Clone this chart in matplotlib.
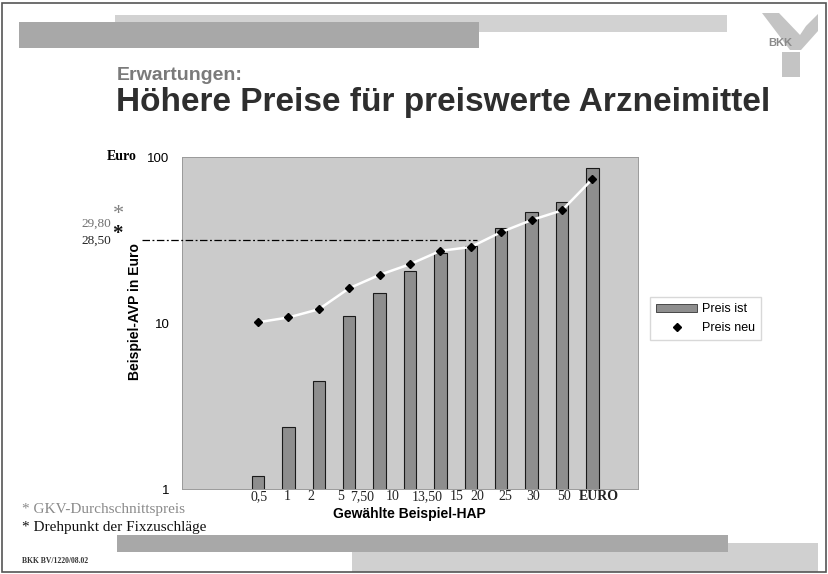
import matplotlib
matplotlib.use("Agg")
import matplotlib.pyplot as plt
from matplotlib.patches import Rectangle, Polygon
from matplotlib.lines import Line2D
from matplotlib.ticker import NullLocator

# data
hap_labels = ["0,5", "1", "2", "5", "7,50", "10", "13,50", "15", "20", "25", "30", "50"]
preis_ist = [1.19, 2.36, 4.49, 11.0, 15.2, 20.5, 26.3, 29.1, 37.3, 46.8, 53.6, 86.2]
preis_neu = [10.1, 10.8, 12.1, 16.2, 19.5, 22.6, 27.2, 28.7, 35.3, 41.7, 47.7, 73.7]
drehpunkt = 31.8  # level of the dash-dot line as drawn
y_ticks = [1, 10, 100]

# where the typed tick labels sit (category units), they drift left of the bars
label_pos = [0.05, 0.95, 1.73, 2.72, 3.42, 4.44, 5.56, 6.55, 7.21, 8.13, 9.05, 10.05, 11.2]

W, H = 829, 574
plt.rcParams["font.family"] = ["Liberation Sans", "DejaVu Sans"]
fig = plt.figure(figsize=(W / 100, H / 100), dpi=100)
fig.patch.set_facecolor("white")


def fx(x):
    return x / W


def fy(y):
    return 1 - y / H


def box(x0, y0, x1, y1, color, z=0):
    fig.add_artist(Rectangle((fx(x0), fy(y1)), fx(x1 - x0), (y1 - y0) / H,
                             transform=fig.transFigure, facecolor=color,
                             edgecolor="none", zorder=z))


# slide frame
fig.add_artist(Rectangle((fx(2), fy(572)), fx(824), 569 / H, transform=fig.transFigure,
                         facecolor="none", edgecolor="#555555", lw=1.2, zorder=5))

# header / footer bands
box(115, 15, 727, 32, "#d2d2d2")
box(19, 22, 479, 48, "#a8a8a8", 1)
box(352, 543, 818, 572, "#d0d0d0")
box(117, 535, 728, 552, "#a8a8a8", 1)

# BKK logo
logo = "#c4c4c4"
for pts in [[(762, 13), (779, 13), (801, 36), (801, 50), (790, 50)],
            [(818, 14), (818, 31), (801, 50), (790, 50), (806, 26)],
            [(782, 52), (800, 52), (800, 77), (782, 77)]]:
    fig.add_artist(Polygon([(fx(a), fy(b)) for a, b in pts], closed=True,
                           transform=fig.transFigure, facecolor=logo, edgecolor="none"))
fig.text(fx(780), fy(43), "BKK", fontsize=8, fontweight="bold", color="#8a8a8a",
         ha="center", va="center")

# titles
fig.text(fx(117), fy(76), "Erwartungen:", fontsize=14, fontweight="bold",
         color="#7a7a7a", va="center")
fig.text(fx(116), fy(102), "Höhere Preise für preiswerte Arzneimittel", fontsize=24,
         fontweight="bold", color="#2e2e2e", va="center")

# chart
ax = fig.add_axes([fx(182), fy(489), fx(456), 332 / H])
ax.set_facecolor("#cbcbcb")
x = list(range(len(hap_labels)))
ax.bar(x, preis_ist, width=0.41, color="#8e8e8e", edgecolor="#1a1a1a",
       lw=0.8, zorder=2)
ax.plot(x, preis_neu, color="white", lw=1.8, zorder=3, solid_capstyle="round")
ax.plot(x, preis_neu, ls="none", marker="D", ms=4.5, color="black", zorder=4)
ax.plot([-3.82, 7.22], [drehpunkt, drehpunkt], color="black", lw=0.9,
        ls=(0, (6, 2, 1.5, 2)), clip_on=False, zorder=3)

ax.set_yscale("log")
ax.set_ylim(1, 100)
ax.set_xlim(-2.5, 12.5)
ax.yaxis.set_minor_locator(NullLocator())
ax.set_yticks(y_ticks, labels=[str(v) for v in y_ticks])
ax.tick_params(axis="y", length=0, pad=9, labelsize=9.5)
ax.set_xticks(label_pos, labels=hap_labels + ["EURO"])
ax.tick_params(axis="x", length=0, pad=1, labelsize=10)
for t in ax.get_xticklabels():
    t.set_family(["Liberation Serif", "DejaVu Serif"])
    t.set_color("#222222")
ax.get_xticklabels()[-1].set_fontweight("bold")
for s in ax.spines.values():
    s.set_color("#9a9a9a")
    s.set_linewidth(0.7)

fig.text(fx(409), fy(514), "Gewählte Beispiel-HAP", fontsize=10, fontweight="bold",
         ha="center", va="center")
fig.text(fx(135), fy(312), "Beispiel-AVP in Euro", fontsize=10, fontweight="bold",
         rotation=90, ha="center", va="center")

serif = ["Liberation Serif", "DejaVu Serif"]
fig.text(fx(107), fy(157), "Euro", fontsize=10, fontweight="bold", family=serif,
         va="center")
fig.text(fx(81), fy(224), "29,80", fontsize=9.5, family=serif, color="#707070", va="center")
fig.text(fx(113), fy(215), "*", fontsize=16, family=serif, color="#808080", va="center")
fig.text(fx(81), fy(241), "28,50", fontsize=9.5, family=serif, color="#222222", va="center")
fig.text(fx(112), fy(234), "*", fontsize=15, fontweight="bold", family=serif,
         color="#111111", va="center")

# legend
handles = [Rectangle((0, 0), 1, 1, facecolor="#8e8e8e", edgecolor="#333333", lw=0.6),
           Line2D([], [], ls="none", marker="D", ms=4.5, color="black")]
fig.legend(handles, ["Preis ist", "Preis neu"], loc="upper left",
           bbox_to_anchor=(fx(650), fy(297)), fontsize=9, frameon=True,
           fancybox=False, edgecolor="#cfcfcf", handlelength=3.3, handleheight=0.55,
           handletextpad=0.35, borderpad=0.5, labelspacing=0.55, borderaxespad=0)

# footnotes
fig.text(fx(22), fy(509), "* GKV-Durchschnittspreis", fontsize=11, family=serif,
         color="#8a8a8a", va="center")
fig.text(fx(22), fy(528), "* Drehpunkt der Fixzuschläge", fontsize=11, family=serif,
         color="#111111", va="center")
fig.text(fx(22), fy(561), "BKK BV/1220/08.02", fontsize=5.5, fontweight="bold",
         family=serif, color="#333333", va="center")

fig.savefig("out.png", dpi=100, facecolor="white")
